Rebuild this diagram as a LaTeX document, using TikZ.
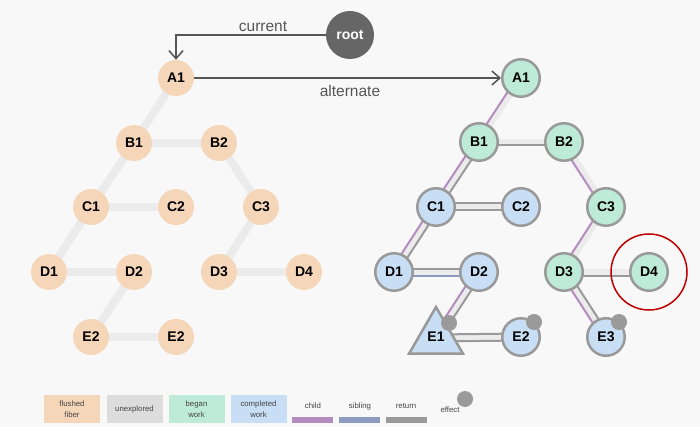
\documentclass[tikz,border=0pt]{standalone}
\usepackage{fontspec}
\setmainfont{Liberation Sans}
\usetikzlibrary{calc,arrows.meta,shapes.geometric}
\definecolor{bg}{HTML}{F8F8F8}
\definecolor{peach}{HTML}{F5D6B9}
\definecolor{unexp}{HTML}{DDDDDD}
\definecolor{began}{HTML}{BEEADA}
\definecolor{donec}{HTML}{C8DEF4}
\definecolor{childc}{HTML}{B48DBE}
\definecolor{sibc}{HTML}{8C9CC0}
\definecolor{retc}{HTML}{9A9A9A}
\definecolor{bandc}{HTML}{EBEBEB}
\definecolor{ringc}{HTML}{999999}
\definecolor{ink}{HTML}{555555}
\definecolor{legink}{HTML}{444444}
\definecolor{rootc}{HTML}{666666}
\definecolor{redc}{HTML}{C00000}
\pgfdeclarelayer{bgl}
\pgfdeclarelayer{edges}
\pgfsetlayers{bgl,edges,main}
\newcommand\bandedge[3]{\draw[#3] (#1.center) -- (#2.center);}
\newcommand\sidel[3]{\draw[#3] ($(#1.center)!3.5pt!-90:(#2.center)$) -- ($(#2.center)!3.5pt!90:(#1.center)$);}
\begin{document}
\begin{tikzpicture}[x=1pt,y=-1pt,
  lab/.style={font=\bfseries\fontsize{14}{14}\selectfont, text=black},
  fl/.style={circle, fill=peach, minimum size=36pt, inner sep=0pt, lab},
  nd/.style={circle, draw=ringc, line width=2.5pt, minimum size=37.5pt, inner sep=0pt, lab},
  bw/.style={nd, fill=began},
  cw/.style={nd, fill=donec},
  wideband/.style={draw=bandc, line width=8pt},
  rband/.style={draw=bandc, line width=6pt},
  chl/.style={draw=childc, line width=2pt},
  sbl/.style={draw=sibc, line width=2pt},
  rtl/.style={draw=retc, line width=2pt},
  effect/.style={circle, fill=retc, minimum size=16pt, inner sep=0pt},
  arr/.style={draw=ink, line width=1.5pt, -{Straight Barb[length=8pt,width=14pt]}},
  arrlab/.style={text=ink, font=\fontsize{15.5}{16}\selectfont},
  legbox/.style={minimum width=56pt, minimum height=28pt, inner sep=0pt, align=center, text=legink, font=\fontsize{7.8}{10.5}\selectfont},
  legtxt/.style={text=legink, font=\fontsize{7.8}{10}\selectfont, inner sep=0pt},
  legbar/.style={minimum width=41pt, minimum height=6pt, inner sep=0pt}
]
\begin{pgfonlayer}{bgl}
\fill[bg] (0,0) rectangle (700,427);
\end{pgfonlayer}
\useasboundingbox (0,0) rectangle (700,427);

% root
\node[circle, fill=rootc, minimum size=48pt, inner sep=0pt, text=white, font=\bfseries\fontsize{14}{14}\selectfont] (root) at (350,35) {root};

% left tree
\node[fl] (la1) at (176,78) {A1};
\node[fl] (lb1) at (134,143) {B1};
\node[fl] (lb2) at (219,143) {B2};
\node[fl] (lc1) at (91,207) {C1};
\node[fl] (lc2) at (176,207) {C2};
\node[fl] (lc3) at (261,207) {C3};
\node[fl] (ld1) at (49,272) {D1};
\node[fl] (ld2) at (134,272) {D2};
\node[fl] (ld3) at (219,272) {D3};
\node[fl] (ld4) at (304,272) {D4};
\node[fl] (le1) at (91,337) {E2};
\node[fl] (le2) at (176,337) {E2};

% right tree
\node[bw] (ra1) at (521,78) {A1};
\node[bw] (rb1) at (479,142) {B1};
\node[bw] (rb2) at (564,142) {B2};
\node[cw] (rc1) at (436,207) {C1};
\node[cw] (rc2) at (521,207) {C2};
\node[bw] (rc3) at (606,207) {C3};
\node[cw] (rd1) at (394,272) {D1};
\node[cw] (rd2) at (479,272) {D2};
\node[bw] (rd3) at (564,272) {D3};
\node[bw] (rd4) at (649,272) {D4};
\node[regular polygon, regular polygon sides=3, draw=ringc, line width=2.5pt, fill=donec, minimum size=62pt, inner sep=0pt, lab] (re1) at (436,338) {};
\node[lab] (re1t) at (436,337) {E1};
\node[cw] (re2) at (521,337) {E2};
\node[cw] (re3) at (606,337) {E3};

% effects and highlight
\node[effect] (fx1) at (449,323) {};
\node[effect] (fx2) at (534,322) {};
\node[effect] (fx3) at (619,322) {};
\node[circle, draw=redc, line width=1.5pt, minimum size=76pt, inner sep=0pt] (hl) at (rd4) {};

% arrows
\draw[arr] (root.west) -| (la1.north);
\node[arrlab] (curlab) at (263,27) {current};
\draw[arr] (la1.east) -- (ra1.west);
\node[arrlab] (altlab) at (350,91) {alternate};

\begin{pgfonlayer}{edges}
% left tree bands
\bandedge{la1}{lb1}{wideband}
\bandedge{lb1}{lb2}{wideband}
\bandedge{lb1}{lc1}{wideband}
\bandedge{lc1}{lc2}{wideband}
\bandedge{lc1}{ld1}{wideband}
\bandedge{ld1}{ld2}{wideband}
\bandedge{ld2}{le1}{wideband}
\bandedge{le1}{le2}{wideband}
\bandedge{lb2}{lc3}{wideband}
\bandedge{lc3}{ld3}{wideband}
\bandedge{ld3}{ld4}{wideband}
% right tree bands
\bandedge{ra1}{rb1}{rband}
\bandedge{rb1}{rb2}{rband}
\bandedge{rb1}{rc1}{rband}
\bandedge{rc1}{rc2}{rband}
\bandedge{rc1}{rd1}{rband}
\bandedge{rd1}{rd2}{rband}
\bandedge{rd2}{re1}{rband}
\bandedge{re1}{re2}{rband}
\bandedge{rb2}{rc3}{rband}
\bandedge{rc3}{rd3}{rband}
\bandedge{rd3}{rd4}{rband}
\bandedge{rd3}{re3}{rband}
% right tree traversal lines
\sidel{ra1}{rb1}{chl}
\sidel{rb1}{rb2}{rtl}
\sidel{rb1}{rc1}{chl}
\sidel{rc1}{rb1}{rtl}
\sidel{rc1}{rc2}{rtl}
\sidel{rc2}{rc1}{rtl}
\sidel{rc1}{rd1}{chl}
\sidel{rd1}{rc1}{rtl}
\sidel{rd1}{rd2}{sbl}
\sidel{rd2}{rd1}{rtl}
\sidel{rd2}{re1}{chl}
\sidel{re1}{rd2}{rtl}
\sidel{re1}{re2}{rtl}
\sidel{re2}{re1}{rtl}
\sidel{rb2}{rc3}{chl}
\sidel{rc3}{rd3}{chl}
\sidel{rd3}{rd4}{rtl}
\sidel{rd3}{re3}{chl}
\sidel{re3}{rd3}{rtl}
\end{pgfonlayer}

% legend
\node[legbox, fill=peach] (lg1) at (72,409) {flushed\\fiber};
\node[legbox, fill=unexp] (lg2) at (134.5,409) {unexplored};
\node[legbox, fill=began] (lg3) at (196.5,409) {began\\work};
\node[legbox, fill=donec] (lg4) at (258.5,409) {completed\\work};
\node[legbar, fill=childc] (bar1) at (312.5,420) {};
\node[legtxt] (bt1) at (313,406) {child};
\node[legbar, fill=sibc] (bar2) at (359.5,420) {};
\node[legtxt] (bt2) at (360,406) {sibling};
\node[legbar, fill=retc] (bar3) at (406.5,420) {};
\node[legtxt] (bt3) at (406,406) {return};
\node[legtxt] (bt4) at (450,409.5) {effect};
\node[effect] (lgfx) at (465,399) {};
\end{tikzpicture}
\end{document}
